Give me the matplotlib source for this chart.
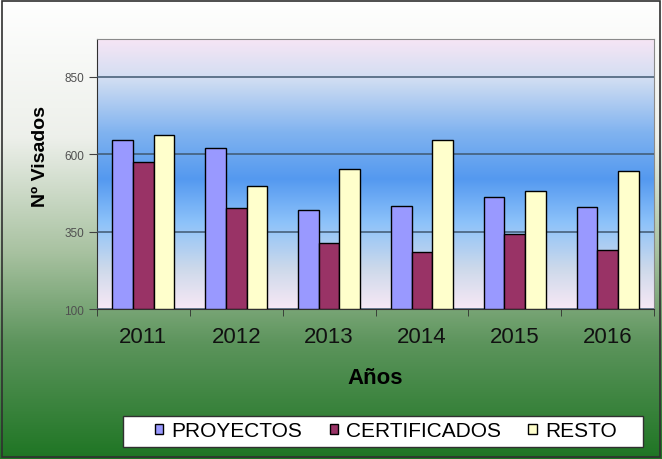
import numpy as np
import matplotlib.pyplot as plt
from matplotlib.colors import LinearSegmentedColormap
from matplotlib.patches import Rectangle

years = ['2011', '2012', '2013', '2014', '2015', '2016']
proyectos = [646, 621, 420, 432, 460, 430]
certificados = [573, 426, 312, 283, 342, 291]
resto = [661, 498, 552, 646, 481, 544]
series = ['PROYECTOS', 'CERTIFICADOS', 'RESTO']
colors = ['#9999FF', '#993366', '#FFFFCC']

plt.rcParams['font.family'] = ['Liberation Sans', 'DejaVu Sans']

fig = plt.figure(figsize=(6.62, 4.60), dpi=100)

# figure background: white on top, green at the bottom
bg = fig.add_axes([0, 0, 1, 1], zorder=-10)
bg_cmap = LinearSegmentedColormap.from_list('bg', [
    (0.0, (1, 1, 1)), (0.3, (0.93, 0.94, 0.92)), (0.55, (0.66, 0.76, 0.63)),
    (0.75, (0.36, 0.58, 0.36)), (1.0, (0.12, 0.46, 0.14))])
bg.imshow(np.linspace(0, 1, 256).reshape(-1, 1), cmap=bg_cmap, aspect='auto',
          extent=[0, 1, 0, 1])
bg.axis('off')
fig.patches.append(Rectangle((0.003, 0.004), 0.994, 0.992, transform=fig.transFigure,
                             fill=False, edgecolor='#303030', linewidth=1.2))

ax = fig.add_axes([0.1465, 0.326, 0.8415, 0.587])
ax.patch.set_visible(False)

# plot area gradient: pink -> blue -> pink
pa_cmap = LinearSegmentedColormap.from_list('pa', [
    (0.0, (0.97, 0.91, 0.96)), (0.15, (0.80, 0.85, 0.92)), (0.32, (0.55, 0.76, 0.98)),
    (0.48, (0.33, 0.60, 0.94)), (0.65, (0.50, 0.70, 0.94)), (0.85, (0.82, 0.87, 0.95)),
    (1.0, (0.97, 0.90, 0.96))])

ylo, yhi = 100, 971
ax.imshow(np.linspace(0, 1, 256).reshape(-1, 1), cmap=pa_cmap, aspect='auto',
          extent=[-0.5, 5.5, yhi, ylo], zorder=0)

x = np.arange(len(years))
w = 0.223
for i, (name, vals) in enumerate(zip(series, [proyectos, certificados, resto])):
    ax.bar(x + (i - 1) * w, np.array(vals) - ylo, w, bottom=ylo, color=colors[i],
           edgecolor='black', linewidth=1.0, label=name, zorder=3)

ax.set_xlim(-0.5, 5.5)
ax.set_ylim(ylo, yhi)
ax.set_yticks([100, 350, 600, 850])
ax.yaxis.grid(True, color='#3f5870', linewidth=1.1, zorder=1)
ax.set_axisbelow(False)
ax.tick_params(axis='y', labelsize=8.5, labelcolor='#505050', length=6, color='#404040')
ax.set_xticks(x)
ax.set_xticklabels(years, fontsize=16, color='#111111')
ax.set_xticks(np.arange(-0.5, 6, 1), minor=True)
ax.tick_params(axis='x', which='major', length=0, pad=12)
ax.tick_params(axis='x', which='minor', length=5, color='#303030')
for s in ['top', 'right']:
    ax.spines[s].set_color('#8a8a8a')
for s in ['left', 'bottom']:
    ax.spines[s].set_color('#303030')

ax.set_xlabel('Años', fontsize=16, fontweight='bold')
ax.xaxis.set_label_coords(0.5, -0.215)
ax.set_ylabel('Nº Visados', fontsize=14, fontweight='bold')
ax.yaxis.set_label_coords(-0.086, 0.567)

# legend frame drawn by hand, entries centred inside it
fig.patches.append(Rectangle((123 / 662, 1 - 448 / 460), 520 / 662, 31 / 460,
                             transform=fig.transFigure, facecolor='white',
                             edgecolor='#303030', linewidth=1.0, zorder=5))
leg = fig.legend(loc='center', bbox_to_anchor=(0.583, 1 - 432 / 460), ncol=3,
                 fontsize=15, frameon=False, handlelength=0.4, handleheight=0.4,
                 handletextpad=0.4, columnspacing=1.3, borderaxespad=0, borderpad=0)
leg.set_zorder(6)

fig.savefig('out.png', dpi=100)
